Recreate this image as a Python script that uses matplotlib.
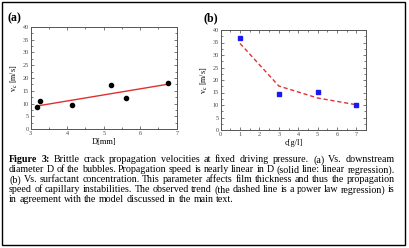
import matplotlib
matplotlib.use("Agg")
import matplotlib.pyplot as plt
from matplotlib.patches import Rectangle
from matplotlib.ticker import MultipleLocator

plt.rcParams["font.family"] = "Liberation Serif"
plt.rcParams["mathtext.fontset"] = "stix"

# panel (a): velocity vs downstream diameter
D_mm = [3.18, 3.25, 4.12, 5.20, 5.62, 6.77]
v_a = [8.5, 10.9, 9.6, 17.1, 12.1, 18.1]
fit_a_x = [3.18, 6.77]
fit_a_y = [9.1, 17.6]

# panel (b): velocity vs surfactant concentration
c_gl = [1, 3, 5, 7]
v_b = [36.8, 14.3, 15.3, 9.9]
fit_b_y = [34.6, 17.6, 12.8, 10.1]

caption = [
    "Figure 3: Brittle crack propagation velocities at fixed driving pressure. (a) Vs. downstream",
    "diameter D of the bubbles. Propagation speed is nearly linear in D (solid line: linear regression).",
    "(b) Vs. surfactant concentration. This parameter affects film thickness and thus the propagation",
    "speed of capillary instabilities. The observed trend (the dashed line is a power law regression) is",
    "in agreement with the model discussed in the main text.",
]

W, H = 409, 248
fig = plt.figure(figsize=(W / 100, H / 100), dpi=100)
fig.patch.set_facecolor("white")


def px_axes(l, t, r, b):
    return fig.add_axes([l / W, 1 - b / H, (r - l) / W, (b - t) / H])


def style(ax, xmajor, xminor):
    ax.xaxis.set_major_locator(MultipleLocator(xmajor))
    ax.xaxis.set_minor_locator(MultipleLocator(xminor))
    ax.yaxis.set_major_locator(MultipleLocator(5))
    ax.yaxis.set_minor_locator(MultipleLocator(2.5))
    ax.tick_params(which="both", direction="in", top=True, right=True,
                   labelsize=4.4, colors="#444444", pad=1.2, width=0.5)
    ax.tick_params(which="major", length=2.5)
    ax.tick_params(which="minor", length=1.3)
    for s in ax.spines.values():
        s.set_linewidth(0.7)
        s.set_color("#555555")


ax1 = px_axes(30.7, 26.7, 176.7, 129.3)
ax1.plot(fit_a_x, fit_a_y, color="#e03030", lw=1.0, zorder=2)
ax1.plot(D_mm, v_a, "o", color="black", ms=3.0, zorder=3)
ax1.set_xlim(3, 7)
ax1.set_ylim(0, 40)
style(ax1, 1, 0.5)
ax1.set_xlabel("D[mm]", fontsize=6, labelpad=1.5)
ax1.set_ylabel(r"v$_\mathrm{c}$ [m/s]", fontsize=5.8, labelpad=2)

ax2 = px_axes(220.7, 30, 366, 130)
ax2.plot(c_gl, fit_b_y, color="#e03030", lw=1.0, ls=(0, (3, 2)), zorder=2)
ax2.plot(c_gl, v_b, "s", color="#1a1aee", ms=3.0, zorder=3)
ax2.set_xlim(0, 7.5)
ax2.set_ylim(0, 40)
style(ax2, 1, 0.5)
ax2.set_xlabel("c[g/l]", fontsize=6, labelpad=1.5)
ax2.set_ylabel(r"v$_\mathrm{c}$ [m/s]", fontsize=5.8, labelpad=2)

fig.text(7 / W, 1 - 21 / H, "(a)", fontsize=8.5, fontweight="bold", va="baseline")
fig.text(203 / W, 1 - 21 / H, "(b)", fontsize=8.5, fontweight="bold", va="baseline")

# outer frame
fig.patches.append(Rectangle((1.5 / W, 1 - 244.5 / H), 403.5 / W, 243 / H,
                             transform=fig.transFigure, fill=False,
                             lw=1.0, ec="black"))

# justified caption: pick the size so the tightest line gets normal spacing
renderer = fig.canvas.get_renderer()
left, right = 9.0, 395.0
ref_fs = 10.0


def word_widths(line, row, fs):
    out = []
    for j, w in enumerate(line.split(" ")):
        bold = row == 0 and j < 2
        t = fig.text(0, 0, w, fontsize=fs, fontweight="bold" if bold else "normal")
        out.append(t.get_window_extent(renderer).width)
        t.remove()
    return out


need = []
for i, line in enumerate(caption[:-1]):
    ws = word_widths(line, i, ref_fs)
    space = 0.25 * ref_fs * 100 / 72
    need.append(sum(ws) + space * (len(ws) - 1))
fs = ref_fs * (right - left) / max(need)

for i, line in enumerate(caption):
    base = 1 - (162.5 + 10 * i) / H
    words = line.split(" ")
    items = []
    for j, w in enumerate(words):
        bold = i == 0 and j < 2
        t = fig.text(0, base, w, fontsize=fs, va="baseline",
                     fontweight="bold" if bold else "normal")
        items.append((t, t.get_window_extent(renderer).width))
    total = sum(w for _, w in items)
    last = i == len(caption) - 1
    gap = 0.25 * fs * 100 / 72 if last else (right - left - total) / (len(items) - 1)
    x = left
    for t, wpx in items:
        t.set_x(x / W)
        x += wpx + gap

fig.savefig("out.png", dpi=100, facecolor="white")
